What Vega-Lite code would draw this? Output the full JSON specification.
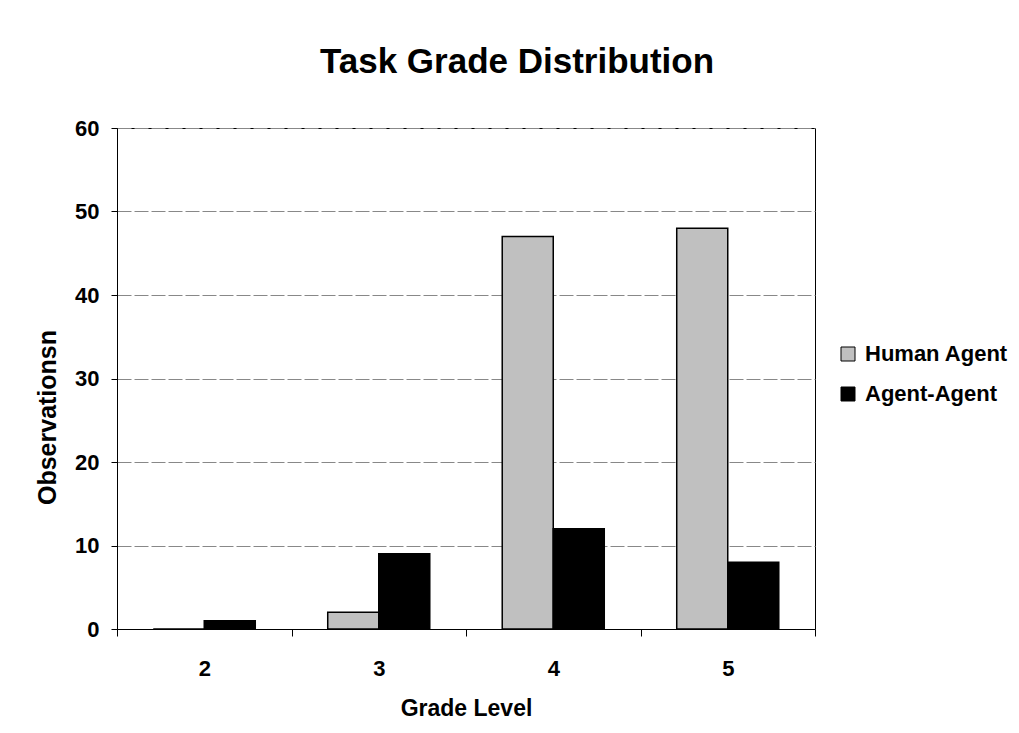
{
  "$schema": "https://vega.github.io/schema/vega-lite/v6.json",
  "width": 698,
  "height": 501,
  "autosize": {"type": "none"},
  "padding": {"left": 117, "top": 128, "right": 204, "bottom": 104},
  "background": "white",
  "title": {
    "text": "Task Grade Distribution",
    "font": "Liberation Sans",
    "fontSize": 35,
    "fontWeight": "bold",
    "color": "black",
    "anchor": "middle",
    "dx": 51,
    "offset": 37
  },
  "data": {
    "values": [
      {"grade": "2", "series": "Human Agent", "obs": 0},
      {"grade": "2", "series": "Agent-Agent", "obs": 1},
      {"grade": "3", "series": "Human Agent", "obs": 2},
      {"grade": "3", "series": "Agent-Agent", "obs": 9},
      {"grade": "4", "series": "Human Agent", "obs": 47},
      {"grade": "4", "series": "Agent-Agent", "obs": 12},
      {"grade": "5", "series": "Human Agent", "obs": 48},
      {"grade": "5", "series": "Agent-Agent", "obs": 8}
    ]
  },
  "mark": {"type": "bar", "stroke": "black", "strokeWidth": 1.5},
  "encoding": {
    "x": {
      "field": "grade",
      "type": "nominal",
      "scale": {"paddingInner": 0, "paddingOuter": 0},
      "axis": {
        "title": "Grade Level",
        "labelAngle": 0,
        "tickBand": "extent",
        "tickSize": 7,
        "tickColor": "black",
        "domainColor": "black",
        "labelFont": "Liberation Sans",
        "labelFontWeight": "bold",
        "labelFontSize": 22,
        "labelColor": "black",
        "labelPadding": 22,
        "titleFont": "Liberation Sans",
        "titleFontWeight": "bold",
        "titleFontSize": 23,
        "titleColor": "black",
        "titlePadding": 18
      }
    },
    "xOffset": {
      "field": "series",
      "type": "nominal",
      "sort": ["Human Agent", "Agent-Agent"],
      "scale": {"paddingInner": 0, "paddingOuter": 0.71}
    },
    "y": {
      "field": "obs",
      "type": "quantitative",
      "scale": {"domain": [0, 60], "nice": false},
      "axis": {
        "title": "Observationsn",
        "titleY": 289,
        "values": [0, 10, 20, 30, 40, 50, 60],
        "tickSize": 6,
        "tickColor": "black",
        "domainColor": "black",
        "gridColor": "#888888",
        "gridDash": [14, 3],
        "gridWidth": 1,
        "labelFont": "Liberation Sans",
        "labelFontWeight": "bold",
        "labelFontSize": 22,
        "labelColor": "black",
        "labelPadding": 12,
        "titleFont": "Liberation Sans",
        "titleFontWeight": "bold",
        "titleFontSize": 25,
        "titleColor": "black",
        "titlePadding": 14
      }
    },
    "color": {
      "field": "series",
      "type": "nominal",
      "sort": ["Human Agent", "Agent-Agent"],
      "scale": {"domain": ["Human Agent", "Agent-Agent"], "range": ["#c0c0c0", "#000000"]},
      "legend": {
        "title": null,
        "orient": "none",
        "legendX": 720,
        "legendY": 215,
        "symbolType": "square",
        "symbolSize": 196,
        "symbolStrokeColor": "black",
        "symbolStrokeWidth": 1,
        "labelFont": "Liberation Sans",
        "labelFontWeight": "bold",
        "labelFontSize": 22,
        "labelColor": "black",
        "labelOffset": 6,
        "rowPadding": 18
      }
    }
  },
  "config": {
    "view": {"stroke": "black", "strokeWidth": 1}
  }
}
